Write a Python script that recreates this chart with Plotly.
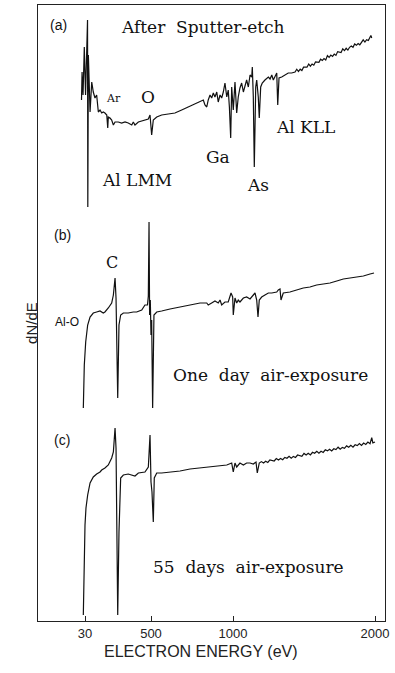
import numpy as np
import plotly.graph_objects as go

# ---------------- data ----------------
# (a) After sputter-etch : electron energy (eV), dN/dE (arb. units)
ev_a = [5, 9, 16, 25, 34, 41, 48, 50, 54, 66, 78, 89, 101, 113, 125, 137, 149, 160, 172, 185,
        192, 196, 208, 220, 232, 244, 267, 291, 315, 338, 363, 374, 386, 410, 434, 457, 481, 493,
        504, 514, 535, 565, 606, 646, 687, 727, 768, 799, 819, 829, 840, 849, 860, 870, 880, 890,
        901, 910, 921, 931, 941, 951, 962, 971, 978, 986, 992, 1002, 1014, 1026, 1037, 1049, 1061,
        1073, 1085, 1096, 1108, 1120, 1132, 1136, 1143, 1150, 1160, 1167, 1178, 1185, 1195, 1206,
        1225, 1249, 1261, 1273, 1284, 1296, 1308, 1315, 1324, 1343, 1366, 1389, 1413,
        1437, 1449, 1461, 1473, 1485, 1497, 1509, 1521, 1533, 1545, 1557, 1569, 1581, 1593, 1605,
        1617, 1629, 1641, 1653, 1665, 1677, 1689, 1701, 1713, 1725, 1737, 1749, 1761, 1773, 1785,
        1797, 1809, 1821, 1833, 1845, 1857, 1869, 1881, 1893, 1905, 1917, 1929, 1941, 1953, 1965,
        1971, 1977]
dnde_a = [121, 149, 126, 174, 126, 171, 201, 14, 166, 109, 139, 129, 123, 126, 109, 111, 108, 109, 108, 106,
          93, 104, 103, 101, 96, 99, 99, 98, 99, 98, 96, 99, 96, 99, 100, 101, 102, 106,
          86, 101, 104, 106, 107, 108, 111, 114, 117, 119, 121, 116, 114, 121, 126, 123, 128, 124,
          129, 119, 126, 123, 129, 138, 124, 131, 114, 83, 134, 111, 139, 108, 124, 133, 138,
          129, 136, 141, 134, 146, 144, 154, 124, 54, 134, 141, 124, 103, 134, 138,
          141, 144, 142, 146, 141, 144, 148, 116, 143, 144, 146, 148, 148,
          149, 151.8, 149.5, 151.8, 150.5, 153.8, 153.5, 153.8, 157, 154.8, 157, 155.8, 159, 158.8, 158.6,
          161.8, 160.6, 162.4, 161, 165.4, 163.6, 165.9, 164.6, 166.9, 165.6, 169.4, 168.7, 168.4, 172.2, 170.4,
          172.7, 170.9, 173.7, 174.9, 173.7, 177, 175.7, 177.5, 176.2, 179.5, 181.2, 179, 181.3, 180.5, 183.8,
          185.6, 183]

# (b) One day air-exposure
ev_b = [18, 25, 35, 49, 66, 89, 113, 137, 160, 172, 196, 220, 232, 244, 251, 263, 272, 284, 303,
        338, 374, 398, 434, 457, 475, 481, 486, 490, 495, 500, 504, 510, 518, 535, 565, 606, 616,
        677, 738, 799, 840, 849, 870, 890, 910, 921, 931, 951, 971, 988, 998, 1002, 1014, 1026,
        1037, 1049, 1073, 1096, 1120, 1143, 1155, 1167, 1176, 1185, 1202, 1225, 1249, 1273, 1308,
        1319, 1331, 1338, 1354, 1401, 1448, 1495, 1542, 1589, 1636, 1683, 1731, 1777, 1824, 1871,
        1918, 1965, 1993]
dnde_b = [13, 56, 79, 96, 104, 108, 109, 110, 108, 109, 113, 118, 126, 143, 123, 23, 96, 106, 108,
          108, 109, 109, 111, 116, 116, 125, 199, 106, 121, 86, 101, 13, 106, 109, 110, 111, 112,
          114, 116, 118, 118, 116, 118, 120, 118, 121, 116, 119, 119, 128, 124, 106, 123, 118,
          121, 119, 123, 124, 122, 126, 128, 121, 104, 121, 124, 126, 128, 128, 129,
          131, 132, 121, 128, 129, 131, 133, 134, 136, 137, 138, 140, 142, 143, 144,
          145, 147, 148]

# (c) 55 days air-exposure
ev_c = [18, 25, 30, 37, 49, 66, 89, 113, 137, 149, 172, 196, 220, 232, 244, 251, 263, 272, 284, 303,
        338, 386, 410, 457, 469, 481, 493, 500, 506, 514, 520, 535, 565, 616, 677, 738, 799, 860,
        921, 962, 992, 1002, 1014, 1026, 1049, 1073, 1096, 1120, 1143, 1162, 1171,
        1185, 1200, 1215, 1230, 1245, 1260, 1275, 1290, 1305, 1320, 1335, 1350, 1365, 1380, 1395,
        1410, 1425, 1440, 1455, 1470, 1485, 1500, 1515, 1530, 1545, 1560, 1575, 1590, 1605, 1620,
        1635, 1650, 1665, 1680, 1695, 1710, 1725, 1740, 1755, 1770, 1785, 1800, 1815, 1830, 1845,
        1860, 1875, 1890, 1905, 1920, 1935, 1950, 1965, 1977, 1985, 2000]
dnde_c = [6, 66, 96, 113, 126, 138, 144, 147, 149, 151, 153, 156, 163, 169, 193, 173, 6, 89, 143, 146,
          147, 145, 148, 149, 151, 154, 186, 139, 129, 99, 143, 148, 148, 149, 150, 152, 153, 154,
          155, 156, 158, 149, 158, 154, 158, 156, 158, 158, 157, 159, 148,
          158, 159.4, 158, 159.7, 158.5, 161.1, 160.3, 160, 162.4, 161, 162.5, 161.3, 163.6, 162.7, 164.8,
          162.9, 164.6, 163.5, 166, 165.4, 164.7, 167.6, 166, 167.7, 166.1, 168.7, 167.7, 169.7, 167.9, 169.8,
          168.6, 171.2, 170.1, 171.8, 170, 172.2, 171.4, 173.8, 171.7, 173.6, 172.7, 175.1, 173.7, 175.6, 173.9,
          176.2, 175.4, 177.5, 175.6, 177.9, 176.6, 178.9, 177.3, 183.4, 178.1, 179]

PANEL_OFFSET = {"a": 400, "b": 200, "c": 0}

TICK_EV = [30, 500, 1000, 2000]
TICK_TEXT = ["30", "500", "1000", "2000"]

# non-uniform energy scale of the original drawing (calibration of the axis)
CAL_EV = [0, 30, 500, 1000, 2000]
CAL_POS = [42.8, 47, 113, 195, 337]


def warp(e):
    return np.interp(np.asarray(e, dtype=float), CAL_EV, CAL_POS)


fig = go.Figure()
for ev, val, key in [(ev_a, dnde_a, "a"), (ev_b, dnde_b, "b"), (ev_c, dnde_c, "c")]:
    fig.add_trace(go.Scatter(
        x=warp(ev), y=np.asarray(val) + PANEL_OFFSET[key], mode="lines",
        line=dict(color="#111111", width=1.2), hoverinfo="skip", showlegend=False))

SERIF = "DejaVu Serif, Liberation Serif, serif"
SANS = "Liberation Sans, Arial, sans-serif"
NB = "\u00a0"


def P(px, py):
    # helper: page pixel -> data coordinates of the plot area
    return px - 38, 621 - py


labels = [
    ("(a)", 58, 25, SANS, 14),
    ("After" + NB * 2 + "Sputter-etch", 203, 27, SERIF, 17),
    ("Ar", 113, 98, SERIF, 11),
    ("O", 148, 97, SERIF, 17),
    ("Al" + NB + "LMM", 137, 180, SERIF, 17),
    ("Ga", 218, 157, SERIF, 17),
    ("As", 258, 185, SERIF, 17),
    ("Al" + NB + "KLL", 305, 127, SERIF, 17),
    ("(b)", 62, 235, SANS, 14),
    ("C", 112, 262, SERIF, 16),
    ("Al-O", 67, 322, SANS, 12),
    ("One" + NB * 2 + "day" + NB * 2 + "air-exposure", 270, 375, SERIF, 17),
    ("(c)", 62, 440, SANS, 14),
    ("55" + NB * 2 + "days" + NB * 2 + "air-exposure", 248, 567, SERIF, 17),
]
for text, px, py, fam, size in labels:
    x, y = P(px, py)
    fig.add_annotation(x=x, y=y, xref="x", yref="y", text=text, showarrow=False,
                       font=dict(family=fam, size=size, color="#111111"),
                       xanchor="center", yanchor="middle")

fig.add_annotation(x=-0.017, y=0.484, xref="paper", yref="paper", text="dN/dE",
                   showarrow=False, textangle=-90,
                   font=dict(family=SANS, size=15, color="#222222"),
                   xanchor="center", yanchor="middle")
fig.add_annotation(x=0.47, y=-0.0495, xref="paper", yref="paper", text="ELECTRON ENERGY (eV)",
                   showarrow=False, font=dict(family=SANS, size=16, color="#222222"),
                   xanchor="center", yanchor="middle")

fig.update_layout(
    width=395, height=673,
    margin=dict(l=38, r=10, t=5, b=52),
    paper_bgcolor="white", plot_bgcolor="white",
    xaxis=dict(range=[0, 347], tickvals=warp(TICK_EV).tolist(), ticktext=TICK_TEXT,
               ticks="inside", ticklen=5, tickcolor="#222222", tickwidth=1,
               showline=True, linecolor="#222222", linewidth=1, mirror=True,
               showgrid=False, zeroline=False, ticklabelstandoff=0,
               tickfont=dict(family=SANS, size=13, color="#222222")),
    yaxis=dict(range=[0, 616], showticklabels=False, ticks="",
               showline=True, linecolor="#222222", linewidth=1, mirror=True,
               showgrid=False, zeroline=False),
)

fig.write_html("out.html")
